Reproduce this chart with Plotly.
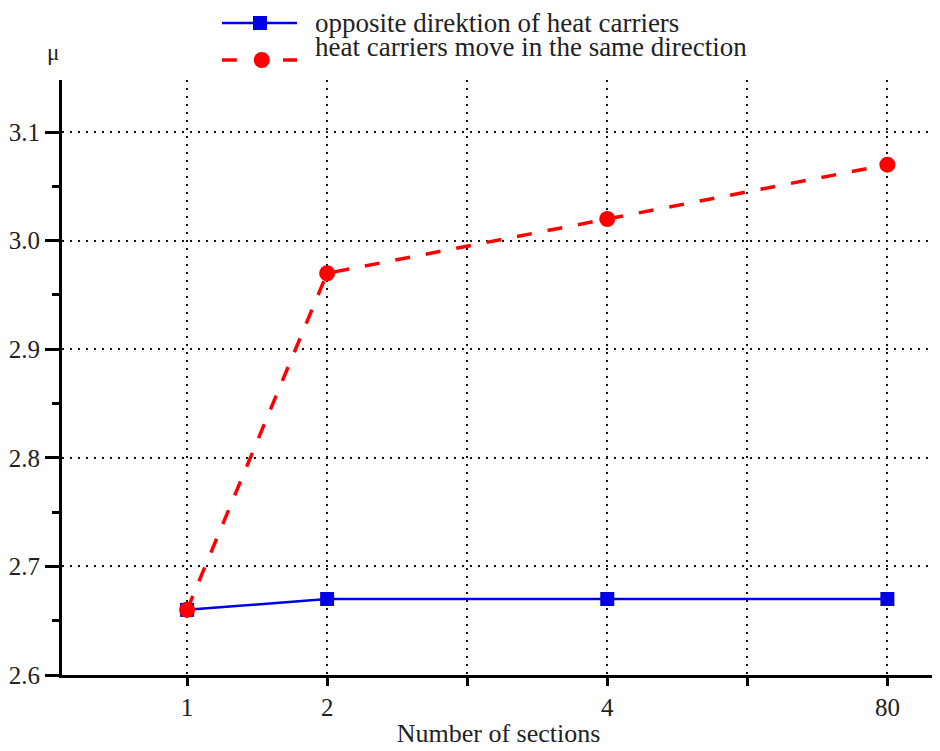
import plotly.graph_objects as go

sections = ["1", "2", "4", "80"]
x_pos = [0, 1, 3, 5]
opposite = [2.66, 2.67, 2.67, 2.67]
same_dir = [2.66, 2.97, 3.02, 3.07]
y_ticks = [2.6, 2.7, 2.8, 2.9, 3.0, 3.1]
y_labels = ["2.6", "2.7", "2.8", "2.9", "3.0", "3.1"]
series_names = ["opposite direktion of heat carriers",
                "heat carriers move in the same direction"]

font = "Times New Roman, Times, serif"
grid_dash = "2px,6px"
BLUE = "#0000E6"
RED = "#FF0000"

fig = go.Figure()
fig.add_trace(go.Scatter(
    x=x_pos, y=opposite, mode="lines+markers", name=series_names[0],
    line=dict(color=BLUE, width=2.5),
    marker=dict(symbol="square", size=14, color=BLUE),
    showlegend=False,
))
fig.add_trace(go.Scatter(
    x=x_pos, y=same_dir, mode="lines+markers", name=series_names[1],
    line=dict(color=RED, width=3.5, dash="15px,16px"),
    marker=dict(symbol="circle", size=16, color=RED),
    showlegend=False,
))

# custom legend (samples + labels), placed in paper coordinates
ly1, ly2, ly_red = 1.0958, 1.0555, 1.0336
lx0, lx1, lxm, lxt = 0.1833, 0.2692, 0.2268, 0.2875
shapes = [
    dict(type="line", xref="paper", yref="paper", x0=lx0, x1=lx1, y0=ly1, y1=ly1,
         line=dict(color=BLUE, width=2.5)),
    dict(type="rect", xref="paper", yref="paper", xsizemode="pixel", ysizemode="pixel",
         xanchor=lxm, yanchor=ly1, x0=-7, x1=7, y0=-7, y1=7,
         fillcolor=BLUE, line=dict(width=0)),
    dict(type="line", xref="paper", yref="paper", x0=lx0, x1=lx0 + 0.017, y0=ly_red, y1=ly_red,
         line=dict(color=RED, width=3.5)),
    dict(type="line", xref="paper", yref="paper", x0=lx1 - 0.016, x1=lx1, y0=ly_red, y1=ly_red,
         line=dict(color=RED, width=3.5)),
    dict(type="circle", xref="paper", yref="paper", xsizemode="pixel", ysizemode="pixel",
         xanchor=lxm + 0.002, yanchor=ly_red, x0=-8, x1=8, y0=-8, y1=8,
         fillcolor=RED, line=dict(width=0)),
]
annotations = [
    dict(text=series_names[0], xref="paper", yref="paper", x=lxt, y=ly1,
         xanchor="left", yanchor="middle", showarrow=False,
         font=dict(family=font, size=27, color="#222")),
    dict(text=series_names[1], xref="paper", yref="paper", x=lxt, y=ly2,
         xanchor="left", yanchor="middle", showarrow=False,
         font=dict(family=font, size=27, color="#222")),
    dict(text="μ", xref="paper", yref="paper", x=-0.0103, y=1.0454,
         xanchor="center", yanchor="middle", showarrow=False,
         font=dict(family=font, size=23, color="#222")),
]

fig.update_layout(
    width=932, height=743,
    margin=dict(l=54, r=5, t=72, b=76, autoexpand=False),
    paper_bgcolor="white", plot_bgcolor="white",
    font=dict(family=font, size=26, color="#222"),
    showlegend=False,
    xaxis=dict(
        range=[-0.893, 5.34], automargin=False,
        tickmode="array", tickvals=x_pos, ticktext=sections,
        showgrid=False, zeroline=False,
        showline=True, linecolor="black", linewidth=3,
        ticks="outside", ticklen=8, tickwidth=3, tickcolor="black",
        minor=dict(tickmode="linear", tick0=0, dtick=1, ticks="outside",
                   ticklen=8, tickwidth=3, tickcolor="black",
                   showgrid=True, gridcolor="#111", griddash=grid_dash, gridwidth=2),
        tickfont=dict(family=font, size=25, color="#222"),
        title=dict(text="Number of sections", font=dict(family=font, size=26, color="#222"), standoff=4),
    ),
    yaxis=dict(
        range=[2.6, 3.148], automargin=False,
        tickmode="array", tickvals=y_ticks, ticktext=y_labels,
        showgrid=True, gridcolor="#111", griddash=grid_dash, gridwidth=2,
        zeroline=False,
        showline=True, linecolor="black", linewidth=3,
        ticks="outside", ticklen=14, tickwidth=3, tickcolor="black",
        minor=dict(tickmode="linear", tick0=2.65, dtick=0.1, ticks="outside",
                   ticklen=7, tickwidth=3, tickcolor="black", showgrid=False),
        tickfont=dict(family=font, size=25, color="#222"),
    ),
    shapes=shapes,
    annotations=annotations,
)

fig.write_html("out.html")
